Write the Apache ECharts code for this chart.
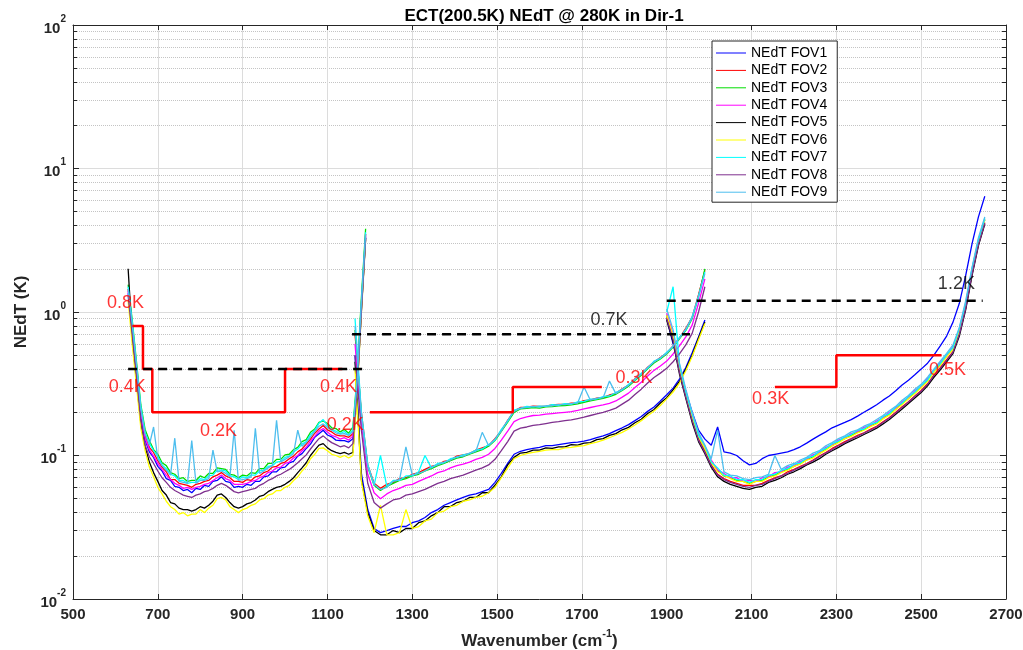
<!DOCTYPE html>
<html lang="en">
<head>
<meta charset="UTF-8">
<title>ECT NEdT</title>
<script src="https://cdn.jsdelivr.net/npm/echarts@6/dist/echarts.min.js"></script>
<style>
  html, body { margin: 0; padding: 0; background: #fff; }
  #main { width: 1023px; height: 650px; }
</style>
</head>
<body>
<div id="main"></div>
<script>
// wavenumber grids of the three bands (cm-1)
var band1Wn = [630,640,650,660,670,680,690,700,710,720,730,740,750,760,770,780,790,800,810,820,830,840,850,860,870,880,890,900,910,920,930,940,950,960,970,980,990,1000,1010,1020,1030,1040,1050,1060,1070,1080,1090,1100,1110,1120,1130,1140,1150,1160,1170,1180,1190];
var band2Wn = [1165,1180,1195,1210,1225,1240,1255,1270,1285,1300,1315,1330,1345,1360,1375,1390,1405,1420,1435,1450,1465,1480,1495,1510,1525,1540,1555,1570,1585,1600,1615,1630,1645,1660,1675,1690,1705,1720,1735,1750,1765,1780,1795,1810,1825,1840,1855,1870,1885,1900,1915,1930,1945,1960,1975,1990];
var band3Wn = [1900,1915,1930,1945,1960,1975,1990,2005,2020,2035,2050,2065,2080,2095,2110,2125,2140,2155,2170,2185,2200,2215,2230,2245,2260,2275,2290,2305,2320,2335,2350,2365,2380,2395,2410,2425,2440,2455,2470,2485,2500,2515,2530,2545,2560,2575,2590,2605,2620,2635,2650];

var fovNames = ['NEdT FOV1','NEdT FOV2','NEdT FOV3','NEdT FOV4','NEdT FOV5','NEdT FOV6','NEdT FOV7','NEdT FOV8','NEdT FOV9'];
var fovColors = ['#0000ff','#ff0000','#00dd00','#ff00ff','#000000','#ffff00','#00ffff','#7e2f8e','#4dbeee'];

// NEdT (K), band 1, FOV1..FOV9
var nedtBand1 = [
  [1.35,.72,.38,.19,.128,.106,.097,.084,.078,.069, .067,.061,.06,.057,.058,.055,.059,.058,.062,.061, .066,.067,.071,.066,.065,.06,.061,.06,.063,.062, .066,.066,.071,.072,.077,.077,.082,.083,.089,.091, .099,.103,.112,.12,.134,.142,.15,.139,.135,.128, .127,.127,.124,.131,.3,1.05,3.3],
  [1.45,.78,.41,.2,.138,.114,.105,.092,.083,.077, .068,.068,.064,.063,.062,.06,.063,.064,.066,.067, .071,.073,.076,.072,.07,.066,.066,.065,.068,.067, .071,.072,.076,.078,.083,.084,.088,.09,.095,.099, .106,.111,.12,.13,.143,.153,.162,.151,.146,.139, .137,.137,.134,.142,.33,1.15,3.5],
  [1.55,.86,.44,.225,.152,.127,.11,.102,.089,.085, .076,.074,.069,.07,.066,.067,.067,.072,.07,.075, .075,.082,.081,.08,.074,.073,.07,.073,.072,.076, .075,.081,.081,.088,.088,.094,.094,.101,.102,.11, .114,.125,.129,.145,.153,.17,.174,.167,.156,.154, .146,.152,.143,.158,.36,1.25,3.8],
  [1.4,.75,.4,.195,.132,.11,.099,.088,.08,.073, .068,.064,.062,.059,.06,.058,.06,.061,.063,.064, .067,.07,.073,.069,.067,.063,.063,.063,.064,.066, .067,.07,.072,.076,.078,.082,.083,.088,.09,.096, .1,.108,.114,.126,.136,.148,.154,.146,.138,.135, .13,.133,.128,.137,.31,1.1,3.4],
  [2.0,.65,.32,.168,.116,.09,.076,.066,.057,.053, .047,.046,.043,.042,.042,.041,.042,.044,.043,.045, .048,.053,.054,.051,.047,.044,.043,.044,.046,.047, .049,.052,.053,.056,.058,.06,.061,.063,.066,.07, .076,.082,.089,.1,.109,.118,.121,.113,.108,.105, .103,.105,.102,.105,.29,1.02,3.3],
  [1.2,.58,.3,.155,.108,.083,.071,.06,.054,.048, .044,.042,.039,.04,.038,.039,.039,.042,.04,.043, .045,.05,.051,.049,.044,.042,.04,.042,.043,.045, .046,.049,.05,.053,.054,.057,.057,.06,.062,.067, .071,.078,.084,.095,.102,.112,.113,.108,.102,.1, .097,.1,.096,.1,.27,.98,3.2],
  [1.5,.83,.42,.218,.144,.122,.108,.098,.086,.081, .074,.072,.067,.067,.064,.065,.065,.069,.068,.072, .073,.079,.079,.078,.072,.071,.068,.071,.07,.073, .073,.078,.079,.084,.085,.09,.091,.097,.099,.106, .111,.12,.125,.14,.149,.168,.178,.161,.152,.148, .142,.147,.139,.151,.34,1.18,3.6],
  [1.3,.68,.35,.175,.118,.098,.088,.078,.07,.065, .06,.057,.055,.053,.052,.051,.053,.054,.056,.057, .059,.062,.064,.062,.059,.056,.055,.056,.057,.058, .059,.062,.064,.067,.069,.072,.074,.077,.08,.084, .089,.095,.101,.111,.121,.131,.137,.129,.123,.119, .115,.117,.113,.121,.29,1.0,3.2],
  [1.45,.8,.42,.21,.142,.118,.158,.095,.085,.079, .073,.132,.066,.065,.064,.127,.064,.067,.067,.069, .109,.077,.078,.075,.071,.15,.067,.068,.069,.071, .155,.075,.078,.082,.085,.176,.09,.094,.098,.103, .15,.116,.123,.135,.147,.16,.166,.157,.15,.144, .141,.142,.138,.147,.33,1.15,3.5]
];

// NEdT (K), band 2, FOV1..FOV9
var nedtBand2 = [
  [.5,.075,.042,.031,.029,.03,.031,.032,.032,.034, .035,.037,.04,.042,.045,.047,.049,.051,.053,.054, .056,.058,.065,.075,.088,.102,.107,.11,.112,.114, .117,.117,.119,.121,.123,.124,.126,.129,.133,.137, .142,.149,.156,.164,.175,.187,.203,.218,.24,.265, .295,.34,.41,.52,.67,.88],
  [.7,.2,.086,.064,.059,.063,.065,.069,.07,.074, .076,.08,.084,.086,.091,.093,.099,.101,.103,.109, .113,.117,.131,.149,.176,.204,.216,.217,.221,.22, .221,.225,.227,.227,.232,.233,.241,.244,.251,.254, .264,.271,.292,.309,.342,.368,.412,.448,.482,.518, .58,.66,.77,.92,1.32,1.95],
  [.75,.19,.083,.062,.057,.061,.064,.067,.069,.072, .074,.078,.081,.085,.088,.092,.096,.098,.102,.106, .11,.116,.127,.147,.171,.2,.211,.213,.216,.214, .218,.219,.222,.223,.225,.229,.235,.24,.245,.25, .257,.267,.284,.304,.333,.363,.402,.441,.47,.51, .57,.65,.745,.9,1.28,2.0],
  [.6,.17,.074,.055,.05,.054,.057,.059,.062,.063, .066,.069,.072,.076,.078,.082,.085,.087,.09,.094, .097,.102,.112,.128,.148,.172,.181,.186,.19,.191, .194,.196,.198,.2,.202,.206,.211,.216,.221,.225, .231,.24,.255,.272,.298,.324,.358,.392,.42,.455, .51,.58,.67,.81,1.15,1.7],
  [.45,.068,.04,.03,.028,.028,.03,.029,.031,.031, .034,.035,.038,.04,.044,.044,.047,.048,.051,.051, .055,.055,.062,.071,.086,.097,.104,.105,.109,.109, .113,.112,.115,.115,.119,.118,.122,.123,.129,.131, .138,.142,.151,.157,.169,.179,.196,.209,.232,.253, .287,.328,.4,.5,.66,.85],
  [.4,.066,.038,.029,.045,.028,.028,.029,.042,.031, .032,.035,.036,.04,.041,.044,.045,.048,.049,.051, .052,.055,.06,.07,.082,.095,.1,.103,.105,.107, .109,.11,.11,.113,.114,.116,.117,.121,.124,.128, .133,.139,.145,.153,.163,.175,.189,.204,.223,.248, .277,.32,.39,.49,.64,.83],
  [.9,.2,.087,.062,.1,.061,.067,.067,.072,.072, .077,.1,.082,.088,.089,.095,.097,.101,.103,.109, .111,.119,.128,.152,.173,.207,.213,.22,.218,.221, .22,.226,.224,.23,.228,.236,.238,.247,.248,.257, .26,.275,.287,.313,.336,.374,.405,.455,.475,.525, .575,.665,.75,.93,1.28,1.9],
  [.5,.15,.064,.047,.043,.046,.049,.05,.053,.054, .056,.058,.061,.064,.066,.069,.071,.073,.076,.079, .082,.086,.094,.108,.125,.148,.155,.158,.162,.164, .167,.17,.172,.175,.177,.181,.185,.19,.195,.2, .206,.214,.228,.243,.266,.29,.32,.35,.375,.405, .45,.51,.59,.71,1.0,1.5],
  [.8,.19,.084,.063,.058,.06,.066,.068,.115,.073, .075,.078,.083,.086,.09,.093,.098,.099,.104,.107, .145,.117,.13,.148,.176,.203,.214,.216,.22,.217, .222,.222,.226,.226,.23,.232,.3,.243,.25,.253, .33,.27,.29,.308,.34,.368,.41,.448,.48,.515, .58,.655,.76,.91,1.3,1.85]
];

// NEdT (K), band 3, FOV1..FOV9
var nedtBand3 = [
  [.9,.6,.4,.28,.2,.15,.13,.118,.158,.106, .104,.1,.092,.086,.088,.095,.1,.102,.104,.106, .11,.115,.122,.13,.138,.146,.156,.163,.17,.178, .188,.2,.212,.226,.243,.26,.283,.31,.335,.365, .4,.44,.5,.58,.68,.85,1.15,1.8,3.0,4.6,6.4],
  [.92,.65,.39,.26,.178,.13,.107,.086,.074,.069, .066,.064,.062,.062,.062,.064,.067,.07,.072,.077, .08,.084,.088,.093,.099,.105,.112,.118,.125,.131, .138,.144,.152,.16,.172,.184,.2,.219,.237,.26, .284,.316,.363,.41,.465,.53,.71,1.07,1.86,3.0,4.2],
  [.95,.68,.41,.27,.185,.136,.112,.09,.079,.072, .07,.067,.066,.064,.066,.067,.071,.073,.077,.08, .084,.088,.093,.098,.103,.111,.117,.125,.131,.138, .145,.152,.16,.168,.181,.194,.21,.23,.25,.274, .299,.333,.382,.43,.49,.56,.74,1.12,1.95,3.1,4.4],
  [.98,.7,.42,.28,.19,.142,.113,.093,.079,.075, .07,.07,.066,.067,.066,.07,.071,.076,.077,.083, .085,.091,.094,.101,.105,.114,.119,.128,.133,.142, .147,.157,.162,.174,.184,.2,.213,.237,.253,.283, .302,.344,.386,.445,.495,.575,.75,1.16,1.98,3.2,4.4],
  [.88,.62,.37,.25,.17,.125,.103,.083,.071,.066, .063,.061,.059,.058,.06,.061,.065,.067,.07,.074, .077,.081,.086,.09,.095,.102,.108,.114,.121,.127, .133,.14,.147,.155,.166,.178,.194,.211,.23,.252, .275,.306,.351,.396,.45,.513,.68,1.04,1.8,2.9,4.1],
  [.95,.68,.41,.27,.185,.136,.112,.09,.077,.073, .069,.066,.066,.063,.066,.066,.07,.072,.076,.079, .084,.087,.093,.096,.103,.109,.117,.123,.131,.136, .144,.15,.159,.166,.18,.191,.209,.227,.249,.27, .297,.328,.38,.425,.487,.55,.74,1.12,1.95,3.1,4.4],
  [1.0,1.5,.43,.275,.195,.138,.117,.09,.082,.073, .072,.068,.068,.065,.068,.068,.073,.074,.079,.081, .087,.089,.096,.099,.107,.112,.121,.126,.135,.14, .15,.153,.165,.17,.187,.196,.218,.232,.258,.277, .308,.337,.394,.436,.505,.565,.77,1.14,2.02,3.15,4.5],
  [.9,.64,.38,.255,.175,.128,.105,.085,.073,.068, .065,.063,.061,.06,.062,.063,.066,.069,.072,.075, .079,.083,.087,.092,.098,.104,.11,.117,.123,.13, .136,.143,.15,.158,.17,.182,.198,.216,.235,.258, .28,.313,.36,.405,.46,.525,.7,1.06,1.84,2.95,4.15],
  [1.05,.75,.44,.29,.2,.145,.118,.095,.15,.077, .073,.072,.069,.068,.07,.071,.074,.1,.08,.085, .088,.093,.097,.104,.108,.117,.123,.131,.137,.146, .151,.16,.167,.178,.19,.205,.22,.243,.262,.29, .313,.352,.4,.455,.515,.59,.78,1.2,2.05,3.3,4.6]
];

// spec levels (K)
var specRedLw = [[640,0.8],[665,0.8],[665,0.4],[687,0.4],[687,0.2],[1000,0.2],[1000,0.4],[1135,0.4]];
var specRedMw = [[1200,0.2],[1537,0.2],[1537,0.3],[1747,0.3]];
var specRedSw = [[2155,0.3],[2300,0.3],[2300,0.5],[2548,0.5]];
var specBlack = [[630,0.4],[1190,0.4],['-','-'],[1158,0.7],[1955,0.7],['-','-'],[1900,1.2],[2645,1.2]];

var redNotes = [['0.8K',624,1.16],['0.4K',628,0.3],['0.2K',843,0.149],['0.4K',1126,0.3],['0.2K',1142,0.162],['0.3K',1823,0.345],['0.3K',2145,0.248],['0.5K',2562,0.395]];
var blackNotes = [['0.7K',1764,0.88],['1.2K',2583,1.57]];

var FONT = '"Liberation Sans", Arial, Helvetica, sans-serif';
var INK = '#262626';

function pairs(wn, vals) {
    return wn.map(function (w, i) { return [w, vals[i]]; });
}

var series = [];
fovNames.forEach(function (name, k) {
    var data = pairs(band1Wn, nedtBand1[k])
        .concat([['-','-']], pairs(band2Wn, nedtBand2[k]))
        .concat([['-','-']], pairs(band3Wn, nedtBand3[k]));
    series.push({
        name: name, type: 'line', data: data, showSymbol: false, symbol: 'none',
        connectNulls: false, lineStyle: {width: 1.3, color: fovColors[k]},
        itemStyle: {color: fovColors[k]}, z: 2
    });
});
[specRedLw, specRedMw, specRedSw].forEach(function (d) {
    series.push({type: 'line', data: d, symbol: 'none', silent: true, z: 5,
        lineStyle: {color: '#ff0000', width: 2.5}});
});
series.push({type: 'line', data: specBlack, symbol: 'none', silent: true, z: 5,
    connectNulls: false, lineStyle: {color: '#000', width: 2.5, type: [9, 6]}});

function noteSeries(notes, color) {
    return {
        type: 'scatter', silent: true, z: 6, symbolSize: 1,
        itemStyle: {color: 'rgba(0,0,0,0)'},
        data: notes.map(function (n) { return {name: n[0], value: [n[1], n[2]]}; }),
        label: {show: true, position: 'inside', formatter: '{b}', color: color,
            fontSize: 18, fontFamily: FONT}
    };
}
series.push(noteSeries(redNotes, '#ff0000'));
series.push(noteSeries(blackNotes, '#000'));

var supRich = {
    b: {fontSize: 15, fontWeight: 'bold', fontFamily: FONT, color: INK, lineHeight: 22, verticalAlign: 'bottom'},
    e: {fontSize: 10, fontWeight: 'bold', fontFamily: FONT, color: INK, verticalAlign: 'top'}
};

var option = {
    animation: false,
    backgroundColor: '#fff',
    color: fovColors,
    title: {
        text: 'ECT(200.5K) NEdT @ 280K in Dir-1',
        left: 539, top: 3, textAlign: 'center',
        textStyle: {fontSize: 17, fontWeight: 'bold', fontFamily: FONT, color: '#000'}
    },
    legend: {
        data: fovNames, orient: 'vertical', left: 712, top: 41,
        icon: 'rect', itemWidth: 30, itemHeight: 1, itemGap: 3.4,
        padding: [5, 10, 3, 4],
        backgroundColor: '#fff', borderColor: INK, borderWidth: 1,
        textStyle: {fontSize: 14, fontFamily: FONT, color: '#000'},
        selectedMode: false
    },
    grid: {left: 73, right: 17, top: 25, bottom: 51, containLabel: false, outerBoundsMode: 'none'},
    xAxis: [{
        type: 'value', min: 500, max: 2700, interval: 200, position: 'bottom',
        name: '{n|Wavenumber (cm}{s|-1}{n|)}', nameLocation: 'middle', nameGap: 29,
        nameTextStyle: {rich: {
            n: {fontSize: 17, fontWeight: 'bold', fontFamily: FONT, color: INK, lineHeight: 22, verticalAlign: 'bottom'},
            s: {fontSize: 11, fontWeight: 'bold', fontFamily: FONT, color: INK, verticalAlign: 'top'}
        }},
        axisLine: {show: true, onZero: false, lineStyle: {color: INK, width: 1}},
        axisTick: {show: true, inside: true, length: 5, lineStyle: {color: INK}},
        axisLabel: {margin: 8, fontSize: 15, fontWeight: 'bold', fontFamily: FONT, color: INK,
            formatter: function (v) { return String(v); }},
        splitLine: {show: true, lineStyle: {color: '#dcdcdc', width: 1}}
    }, {
        type: 'value', min: 500, max: 2700, interval: 200, position: 'top',
        axisLine: {show: true, onZero: false, lineStyle: {color: INK, width: 1}},
        axisTick: {show: true, inside: true, length: 5, lineStyle: {color: INK}},
        axisLabel: {show: false}, splitLine: {show: false}
    }],
    yAxis: [{
        type: 'log', logBase: 10, min: 0.01, max: 100, splitNumber: 4, position: 'left',
        name: 'NEdT (K)', nameLocation: 'middle', nameGap: 42, nameRotate: 90,
        nameTextStyle: {fontSize: 17, fontWeight: 'bold', fontFamily: FONT, color: INK},
        axisLine: {show: true, onZero: false, lineStyle: {color: INK, width: 1}},
        axisTick: {show: true, inside: true, length: 6, lineStyle: {color: INK}},
        minorTick: {show: true, splitNumber: 9, length: 4, lineStyle: {color: INK}},
        minorSplitLine: {show: true, lineStyle: {color: '#c4c4c4', type: 'dotted', width: 1}},
        axisLabel: {
            margin: 7,
            formatter: function (v) { return '{b|10}{e|' + Math.round(Math.log10(v)) + '}'; },
            rich: supRich
        },
        splitLine: {show: true, lineStyle: {color: '#dcdcdc', width: 1}}
    }, {
        type: 'log', logBase: 10, min: 0.01, max: 100, splitNumber: 4, position: 'right',
        axisLine: {show: true, onZero: false, lineStyle: {color: INK, width: 1}},
        axisTick: {show: true, inside: true, length: 6, lineStyle: {color: INK}},
        minorTick: {show: true, splitNumber: 9, length: 4, lineStyle: {color: INK}},
        axisLabel: {show: false}, splitLine: {show: false}
    }],
    series: series
};

var myChart = echarts.init(document.getElementById('main'), null, {renderer: 'canvas'});
myChart.setOption(option);
</script>
</body>
</html>
